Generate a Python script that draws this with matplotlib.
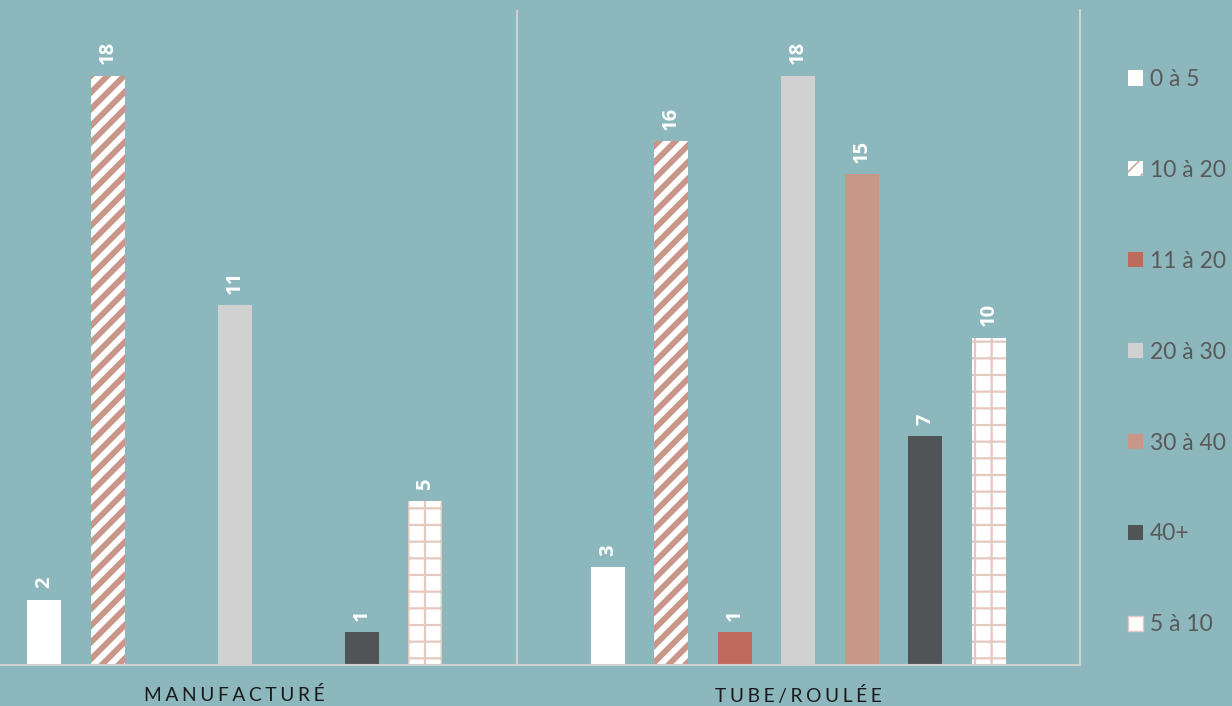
import matplotlib.pyplot as plt
import numpy as np

# --- données ---
categories = ['MANUFACTURÉ', 'TUBE/ROULÉE']
series = ['0 à 5', '10 à 20', '11 à 20', '20 à 30', '30 à 40', '40+', '5 à 10']
values = {
    '0 à 5':   [2, 3],
    '10 à 20': [18, 16],
    '11 à 20': [None, 1],
    '20 à 30': [11, 18],
    '30 à 40': [None, 15],
    '40+':     [1, 7],
    '5 à 10':  [5, 10],
}

# --- styles ---
bg = '#8BB7BD'
styles = {
    '0 à 5':   dict(color='white', edgecolor='white', hatch=None, hlw=1.0),
    '10 à 20': dict(color='white', edgecolor='#C9968A', hatch='//', hlw=4.2),
    '11 à 20': dict(color='#BE6B5E', edgecolor='#BE6B5E', hatch=None, hlw=1.0),
    '20 à 30': dict(color='#D1D1D1', edgecolor='#D1D1D1', hatch=None, hlw=1.0),
    '30 à 40': dict(color='#C99787', edgecolor='#C99787', hatch=None, hlw=1.0),
    '40+':     dict(color='#505456', edgecolor='#505456', hatch=None, hlw=1.0),
    '5 à 10':  dict(color='white', edgecolor='#E5C8C0', hatch='+', hlw=1.6),
}

plt.rcParams['font.family'] = ['Lato', 'DejaVu Sans']

fig = plt.figure(figsize=(12.32, 7.06), dpi=100, facecolor=bg)
ax = fig.add_axes([-47 / 1232, 41 / 706, 1127 / 1232, 655 / 706])
ax.set_facecolor(bg)

x = np.arange(len(categories))
step = 0.1127
width = 0.0603
handles = []
for j, name in enumerate(series):
    st = styles[name]
    vals = [v if v is not None else 0 for v in values[name]]
    with plt.rc_context({'hatch.linewidth': st['hlw']}):
        bars = ax.bar(x + (j - 3) * step, vals, width,
                      color=st['color'], edgecolor=st['edgecolor'],
                      hatch=st['hatch'], linewidth=0, label=name, zorder=2)
    handles.append(bars)
    for b, v in zip(bars, values[name]):
        if v is None:
            continue
        ax.annotate(str(v), (b.get_x() + b.get_width() / 2, b.get_height()),
                    xytext=(0, 8), textcoords='offset points',
                    rotation=90, ha='center', va='bottom',
                    color='white', fontsize=14.5, fontweight='bold',
                    family=['Open Sans', 'DejaVu Sans'])

ax.set_xlim(-0.5, 1.5)
ax.set_ylim(0, 20)
ax.set_yticks([])
ax.set_xticks([])
for s in ['top', 'left']:
    ax.spines[s].set_visible(False)
for s in ['bottom', 'right']:
    ax.spines[s].set_color('#D0D0D0')
    ax.spines[s].set_linewidth(1.5)
ax.axvline(0.5, color='#D0D0D0', lw=1.5, zorder=1)

for xi, cat in zip(x, categories):
    ax.text(xi, -0.93, '\u2009\u200a'.join(cat), ha='center', va='center',
            fontsize=13.8, color='#1A1A1A', clip_on=False)

leg = fig.legend(handles=handles, labels=series, loc='upper left',
                 bbox_to_anchor=(1128 / 1232, 1 - 69 / 706),
                 frameon=False, fontsize=16.5, labelcolor='#595959',
                 handlelength=0.65, handleheight=0.65, handletextpad=0.3,
                 labelspacing=3.05, borderaxespad=0, borderpad=0)

# la case "5 à 10" de la légende : blanche avec un fin contour rosé
last = leg.legend_handles[-1]
last.set_hatch(None)
last.set_edgecolor('#E5C8C0')
last.set_linewidth(1.0)

fig.savefig('out.png', dpi=100, facecolor=bg)
